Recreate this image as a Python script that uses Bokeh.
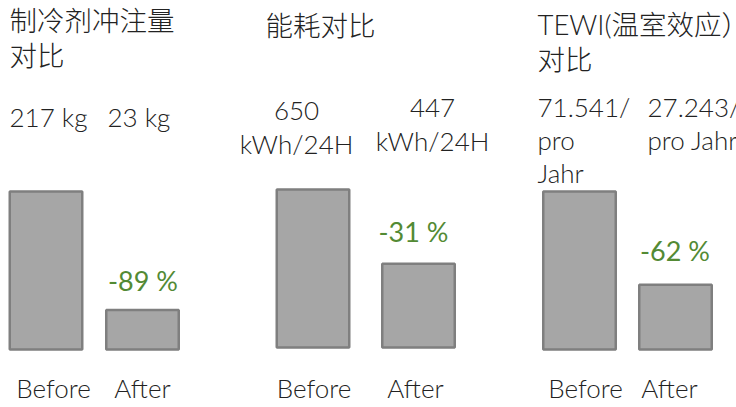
from bokeh.plotting import figure
from bokeh.models import Range1d, ColumnDataSource
from bokeh.core.properties import value
from bokeh.embed import file_html
from bokeh.resources import INLINE

# ---------------- data ----------------
categories = ["Before", "After"]
titles = ["制冷剂冲注量\n对比", "能耗对比", "TEWI(温室效应）\n对比"]
before_labels = ["217 kg", "650\nkWh/24H", "71.541/\npro\nJahr"]
after_labels = ["23 kg", "447\nkWh/24H", "27.243/\npro Jahr"]
change_labels = ["-89 %", "-31 %", "-62 %"]
before_heights = [100, 100, 100]   # visual bar heights (relative)
after_heights = [25, 53, 41]

# ---------------- layout (page pixels) ----------------
W, H = 736, 407
OX, OY = 0, 0
BASE_PY = 349.0
PX_PER_UNIT = 1.58

def dx(px):
    return px - OX

def dy(py):
    return (BASE_PY - py) / PX_PER_UNIT

before_cx = [45.5, 312.5, 579]
after_cx = [142, 418, 675]
base_shift = [0, 2, 0]
bar_w = 72.5

title_x = [9, 265, 537]
title_y0 = [20, 24.5, 24]
title_pitch = 35

val_align = ["left", "center", "left"]
val_x_before = [9, 296, 537]
val_x_after = [107, 432, 647]
val_y_before = [128, 122, 118]
val_y_after = [128, 119, 118]
val_pitch = 33

pct_x = [142.5, 413, 674.5]
pct_y = [292, 243, 262]

cat_x_before = [53, 313.5, 585]
cat_x_after = [142, 415, 669]
cat_y = 399

TEXT = "#222222"
GREEN = "#538a34"
FONT = value("'Lato Light', Lato, 'Noto Sans CJK SC', sans-serif")
PCT_FONT = value("Lato, sans-serif")
TITLE_FONT = value("'Lato Light', 'Noto Sans CJK SC Light', "
                   "'Noto Sans CJK SC DemiLight', 'Noto Sans CJK SC', sans-serif")

p = figure(width=W, height=H, x_range=Range1d(0, W),
           y_range=Range1d(dy(OY + H), dy(OY)),
           output_backend="svg", toolbar_location=None,
           x_axis_location=None, y_axis_location=None, min_border=0)
p.grid.visible = False
p.outline_line_color = None
p.background_fill_color = "white"
p.border_fill_color = "white"

# bars
bx, bb, bt = [], [], []
for i in range(3):
    b = base_shift[i] / PX_PER_UNIT
    bx += [dx(before_cx[i]), dx(after_cx[i])]
    bb += [b, b]
    bt += [b + before_heights[i], b + after_heights[i]]
p.vbar(x=bx, bottom=bb, top=bt, width=bar_w, fill_color="#a6a6a6",
       line_color="#7f7f7f", line_width=2.5)

def add_text(xs, ys, texts, align, baseline, size, color, font=FONT, yoff=0):
    src = ColumnDataSource(dict(x=xs, y=ys, text=texts))
    p.text(x="x", y="y", text="text", source=src, text_align=align,
           text_baseline=baseline, text_font=font, text_font_size=size,
           text_color=color, y_offset=yoff)

# titles
tx, ty, tt = [], [], []
for i, t in enumerate(titles):
    for k, line in enumerate(t.split("\n")):
        tx.append(dx(title_x[i]))
        ty.append(dy(title_y0[i] + k * title_pitch))
        tt.append(line)
add_text(tx, ty, tt, "left", "middle", "27.5px", TEXT, font=TITLE_FONT)

# value labels
for i in range(3):
    xs, ys, ts = [], [], []
    for lab, x0, y0 in ((before_labels[i], val_x_before[i], val_y_before[i]),
                        (after_labels[i], val_x_after[i], val_y_after[i])):
        for k, line in enumerate(lab.split("\n")):
            xs.append(dx(x0))
            ys.append(dy(y0 + k * val_pitch))
            ts.append(line)
    add_text(xs, ys, ts, val_align[i], "alphabetic", "26px", TEXT, yoff=-12)

# change labels
add_text([dx(v) for v in pct_x], [dy(v) for v in pct_y], change_labels,
         "center", "alphabetic", "27px", GREEN, font=PCT_FONT, yoff=-12.5)

# category labels
cx, cy, ct = [], [], []
for i in range(3):
    cx += [dx(cat_x_before[i]), dx(cat_x_after[i])]
    cy += [dy(cat_y), dy(cat_y)]
    ct += categories
add_text(cx, cy, ct, "center", "alphabetic", "26px", TEXT, yoff=-12)

open("out.html", "w").write(file_html(p, INLINE))
